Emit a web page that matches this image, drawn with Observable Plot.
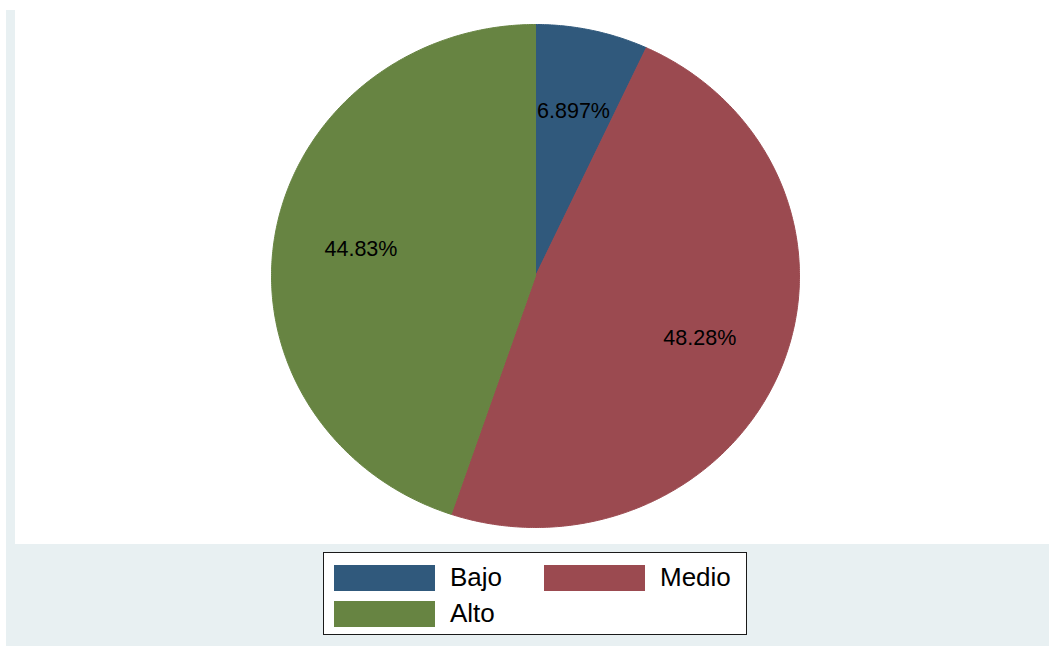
<!DOCTYPE html>
<html>
<head>
<meta charset="utf-8">
<script src="https://cdn.jsdelivr.net/npm/d3@7"></script>
<script src="https://cdn.jsdelivr.net/npm/@observablehq/plot@0.6"></script>
<style>
  html, body { margin: 0; padding: 0; background: #ffffff; }
  body { width: 1049px; height: 647px; position: relative; overflow: hidden; font-family: "Liberation Sans", Arial, sans-serif; }
  #outer { position: absolute; left: 6px; top: 10px; width: 1043px; height: 636px; background: #e8f0f2; }
  #plotbox { position: absolute; left: 15px; top: 0px; width: 1034px; height: 544px; background: #ffffff; }
  #legend { position: absolute; left: 323px; top: 552px; width: 422px; height: 81px; background: #ffffff; border: 1.5px solid #1a1a1a; }
  .item { position: absolute; display: flex; align-items: center; font-size: 26px; color: #000; }
  .sw { width: 101px; height: 26px; margin-right: 15px; }
</style>
</head>
<body>
<div id="outer"></div>
<div id="plotbox"></div>
<div id="legend"></div>
<script>
// Data
const categories = ["Bajo", "Medio", "Alto"];
const counts = [2, 14, 13];
const colors = ["#30597c", "#9b4a50", "#678442"];

const total = d3.sum(counts);
const fmt = d3.format(".4");

// Build wedges (clockwise from 12 o'clock)
const wedgePts = [];
const labels = [];
let acc = 0;
categories.forEach((c, i) => {
  const a0 = acc / total * 2 * Math.PI;
  acc += counts[i];
  const a1 = acc / total * 2 * Math.PI;
  wedgePts.push({cat: c, x: 0, y: 0});
  const n = Math.max(2, Math.ceil((a1 - a0) / (Math.PI / 360)));
  for (let k = 0; k <= n; k++) {
    const a = a0 + (a1 - a0) * k / n;
    wedgePts.push({cat: c, x: Math.sin(a), y: Math.cos(a)});
  }
  wedgePts.push({cat: c, x: 0, y: 0});
  const am = (a0 + a1) / 2;
  labels.push({cat: c, x: 0.67 * Math.sin(am), y: 0.67 * Math.cos(am), text: fmt(counts[i] / total * 100) + "%"});
});

const cx = 535 - 15, cy = 275.5, rx = 264, ry = 251.5;

const chart = Plot.plot({
  width: 1034,
  height: 544,
  margin: 0,
  x: {domain: [-1, 1], range: [cx - rx, cx + rx], axis: null},
  y: {domain: [-1, 1], range: [cy + ry, cy - ry], axis: null},
  color: {domain: categories, range: colors},
  style: {background: "transparent"},
  marks: [
    Plot.line(wedgePts, {x: "x", y: "y", z: "cat", fill: "cat", stroke: "cat", strokeWidth: 1, curve: "linear-closed"}),
    Plot.text(labels, {x: "x", y: "y", text: "text", fill: "#000", fontSize: 21.5, fontFamily: "Liberation Sans, Arial, sans-serif"})
  ]
});
document.getElementById("plotbox").appendChild(chart);

// Legend
const legend = document.getElementById("legend");
const pos = [[10, 9], [220, 9], [10, 45]];
categories.forEach((c, i) => {
  const it = document.createElement("div");
  it.className = "item";
  it.style.left = pos[i][0] + "px";
  it.style.top = pos[i][1] + "px";
  const sw = document.createElement("div");
  sw.className = "sw";
  sw.style.background = colors[i];
  it.appendChild(sw);
  const t = document.createElement("span");
  t.textContent = c;
  it.appendChild(t);
  legend.appendChild(it);
});
</script>
</body>
</html>
